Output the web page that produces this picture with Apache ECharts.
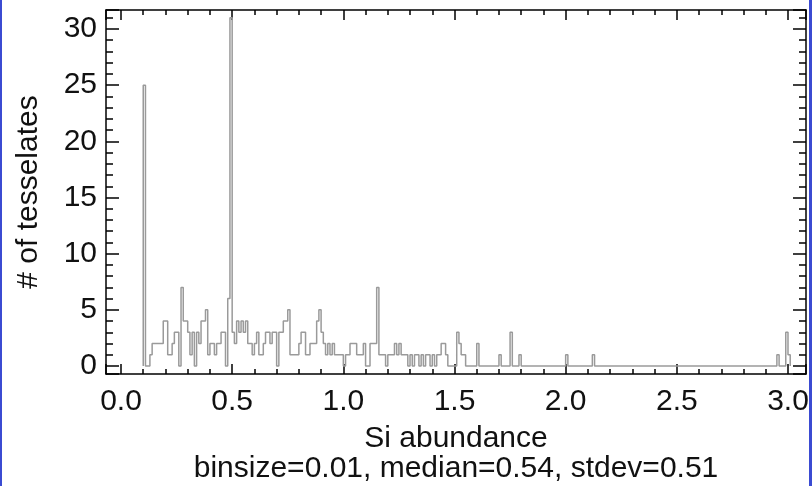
<!DOCTYPE html>
<html>
<head>
<meta charset="utf-8">
<script src="https://cdn.jsdelivr.net/npm/echarts@6/dist/echarts.min.js"></script>
<style>
  html, body { margin: 0; padding: 0; background: #fff; }
  #chart { width: 812px; height: 486px; position: relative; }
  .edge { position: absolute; top: 0; height: 486px; background: #3b4bd2; }
</style>
</head>
<body>
<div id="chart"></div>
<div class="edge" style="left:0;width:2px"></div>
<div class="edge" style="left:809px;width:3px"></div>
<script>
  // histogram of Si abundance, bins of 0.01 starting at 0.10
  const binStart = 0.10
  const binSize = 0.01
  const counts = [
    25, 0, 0, 1, 2, 2, 2, 2, 2, 4,
    4, 1, 1, 2, 3, 3, 0, 7, 4, 4,
    3, 1, 3, 0, 3, 2, 4, 4, 5, 1,
    2, 2, 1, 2, 2, 3, 3, 0, 6, 31,
    3, 2, 4, 3, 4, 3, 4, 2, 2, 1,
    2, 3, 1, 1, 2, 3, 3, 2, 3, 3,
    0, 3, 3, 4, 4, 5, 1, 1, 1, 1,
    2, 3, 3, 1, 1, 2, 2, 2, 4, 5,
    3, 2, 1, 2, 1, 2, 1, 1, 1, 1,
    0, 1, 1, 2, 2, 2, 1, 1, 1, 2,
    0, 0, 2, 2, 2, 7, 1, 1, 1, 0,
    1, 1, 1, 2, 1, 2, 1, 1, 1, 0,
    1, 0, 1, 1, 0, 1, 0, 1, 1, 0,
    1, 0, 1, 1, 2, 2, 1, 0, 0, 0,
    0, 3, 2, 1, 1, 0, 0, 0, 0, 0,
  ]
  // sparse bins further out (everything else is empty)
  const tailBins = [1.60, 1.70, 1.75, 1.79, 2.00, 2.12, 2.95, 2.99, 3.00]
  const tailCounts = [2, 1, 3, 1, 1, 1, 1, 3, 1]
  const lastBin = 3.00

  const xTicks = [0.0, 0.5, 1.0, 1.5, 2.0, 2.5, 3.0]
  const yTicks = [0, 5, 10, 15, 20, 25, 30]

  const XMIN = -0.0675, XMAX = 3.081
  const YMIN = -0.71, YMAX = 31.69

  function buildSteps() {
    const nBins = Math.round((lastBin - binStart) / binSize) + 1
    const vals = new Array(nBins).fill(0)
    counts.forEach((v, i) => { vals[i] = v })
    tailBins.forEach((b, k) => {
      vals[Math.round((b - binStart) / binSize)] = tailCounts[k]
    })
    const pts = [[binStart, 0]]
    vals.forEach((v, i) => {
      pts.push([+(binStart + i * binSize).toFixed(2), v])
    })
    pts.push([+(binStart + nBins * binSize).toFixed(2), 0])
    return pts
  }

  const FONT = 'Liberation Sans, Arial, Helvetica, sans-serif'
  const black = '#000'

  const isMajorX = (v) => xTicks.some((t) => Math.abs(t - v) < 1e-6)
  const isMajorY = (v) => yTicks.some((t) => Math.abs(t - v) < 1e-6)

  function xAxisDef(position, major, showLabel) {
    return {
      type: 'value',
      position: position,
      min: XMIN,
      max: XMAX,
      splitNumber: major ? 6 : 31,
      minInterval: major ? 0.5 : 0.1,
      maxInterval: major ? 0.5 : 0.1,
      axisLine: { show: major, onZero: false, lineStyle: { color: black, width: 1.5 } },
      axisTick: { show: true, inside: true, length: major ? 10 : 5, lineStyle: { color: black, width: 1.5 } },
      axisLabel: {
        show: showLabel,
        fontSize: 30,
        fontFamily: FONT,
        color: '#111',
        margin: 13,
        formatter: (v) => (isMajorX(v) ? v.toFixed(1) : ''),
      },
      splitLine: { show: false },
    }
  }

  function yAxisDef(position, major, showLabel) {
    return {
      type: 'value',
      position: position,
      min: YMIN,
      max: YMAX,
      splitNumber: major ? 6 : 32,
      minInterval: major ? 5 : 1,
      maxInterval: major ? 5 : 1,
      axisLine: { show: major, onZero: false, lineStyle: { color: black, width: 1.5 } },
      axisTick: { show: true, inside: true, length: major ? 13 : 7, lineStyle: { color: black, width: 1.5 } },
      axisLabel: {
        show: showLabel,
        fontSize: 30,
        fontFamily: FONT,
        color: '#111',
        margin: 9,
        formatter: (v) => (isMajorY(v) ? String(Math.round(v)) : ''),
      },
      splitLine: { show: false },
    }
  }

  const xMain = xAxisDef('bottom', true, true)
  xMain.name = 'Si abundance'
  xMain.nameLocation = 'middle'
  xMain.nameGap = 50
  xMain.nameTextStyle = { fontSize: 30, fontFamily: FONT, color: '#111' }

  const yMain = yAxisDef('left', true, true)
  yMain.name = '# of tesselates'
  yMain.nameLocation = 'middle'
  yMain.nameGap = 62
  yMain.nameTextStyle = { fontSize: 30, fontFamily: FONT, color: '#111' }

  const chart = echarts.init(document.getElementById('chart'), null, { renderer: 'canvas' })
  chart.setOption({
    animation: false,
    backgroundColor: '#fff',
    title: {
      text: 'binsize=0.01, median=0.54, stdev=0.51',
      left: 456,
      top: 454,
      textAlign: 'center',
      padding: 0,
      textStyle: { fontSize: 30, fontWeight: 'normal', fontFamily: FONT, color: '#111' },
    },
    grid: {
      left: 106,
      top: 10,
      right: 6,
      bottom: 112,
      containLabel: false,
      outerBoundsMode: 'none',
    },
    xAxis: [
      xMain,
      xAxisDef('bottom', false, false),
      xAxisDef('top', true, false),
      xAxisDef('top', false, false),
    ],
    yAxis: [
      yMain,
      yAxisDef('left', false, false),
      yAxisDef('right', true, false),
      yAxisDef('right', false, false),
    ],
    series: [
      {
        type: 'line',
        xAxisIndex: 0,
        yAxisIndex: 0,
        step: 'end',
        symbol: 'none',
        lineStyle: { color: '#9a9a9a', width: 1.5 },
        data: buildSteps(),
      },
    ],
  })
</script>
</body>
</html>
